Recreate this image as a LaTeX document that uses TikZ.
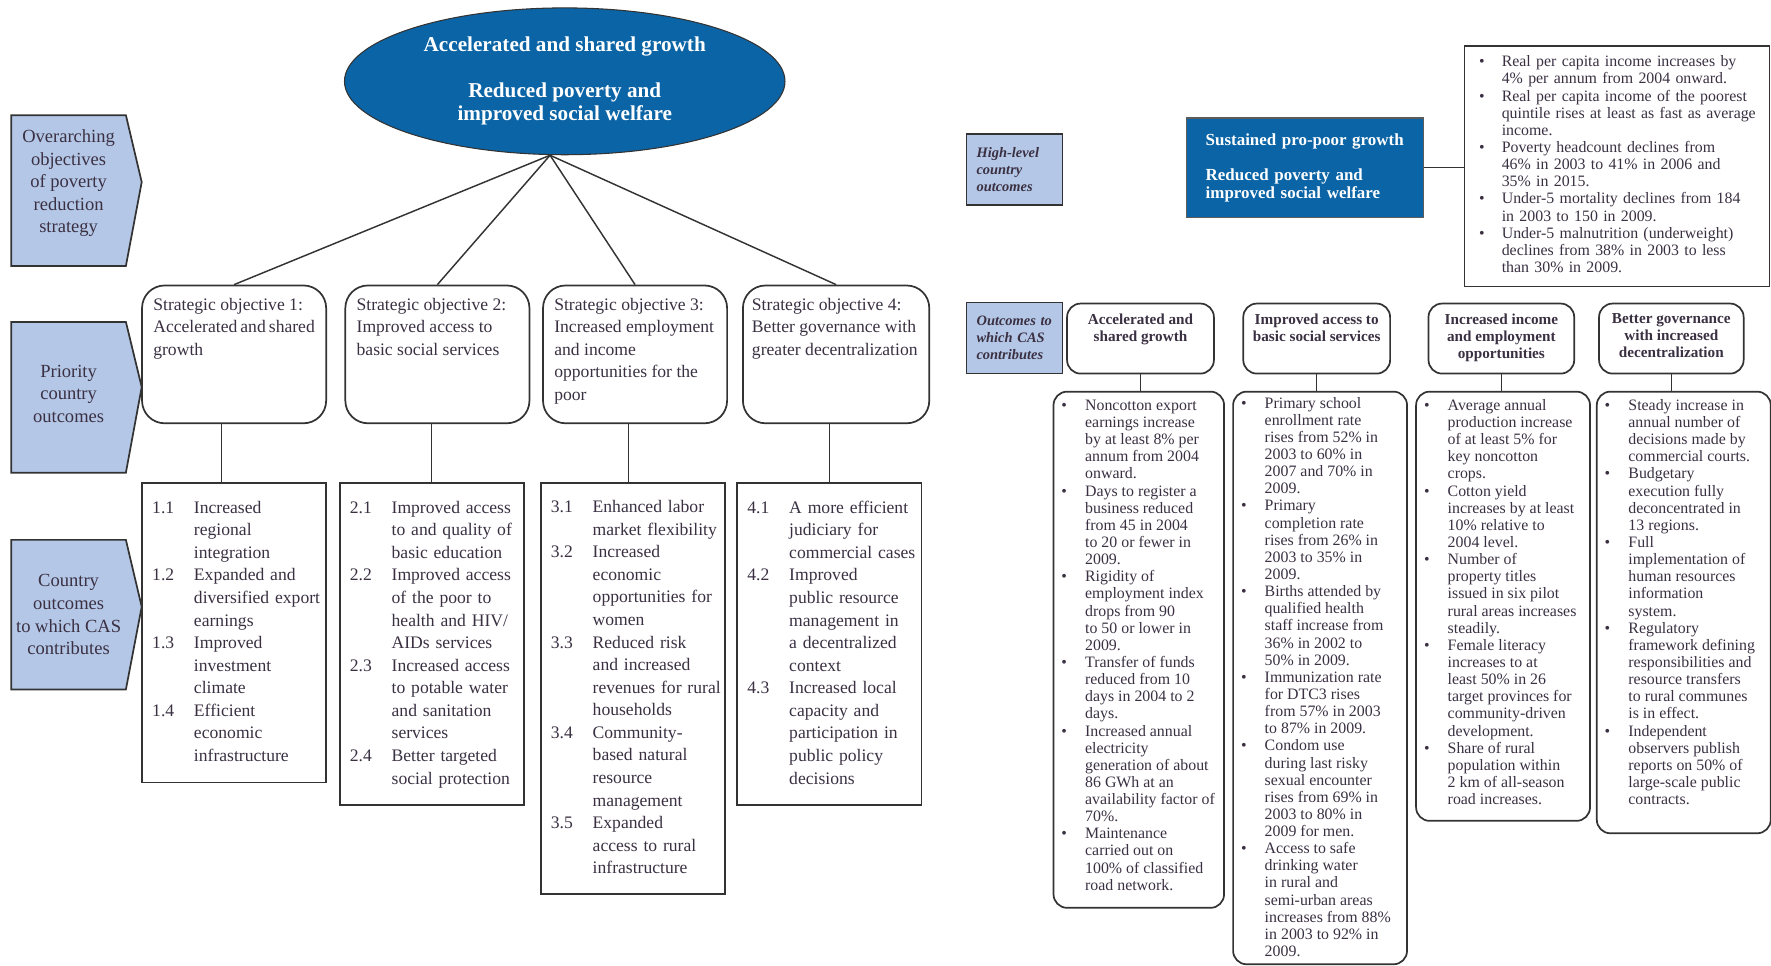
\documentclass[tikz,border=0pt]{standalone}
\usepackage{fontspec}
\setmainfont{Liberation Serif}
\usetikzlibrary{shapes.geometric,backgrounds}
\definecolor{csblue}{HTML}{0B64A5}
\definecolor{cstag}{HTML}{B4C7E7}
\definecolor{csedge}{HTML}{333333}
\definecolor{cstext}{HTML}{3A3042}
\newlength{\un}\setlength{\un}{0.3mm}
\newcommand{\fleft}{\fontsize{13.3}{17.07}\selectfont}
\newcommand{\ftag}{\fontsize{14}{17.07}\selectfont}
\newcommand{\fell}{\fontsize{16}{17.5}\selectfont\bfseries}
\newcommand{\fsmall}{\fontsize{12}{12.95}\selectfont}
\newcommand{\fhead}{\fontsize{11.5}{12.8}\selectfont\bfseries}
\newcommand{\ftagr}{\fontsize{10.9}{12.8}\selectfont\bfseries\itshape}
\newcommand{\fgrw}{\fontsize{12.8}{13.2}\selectfont\bfseries}
\newcommand{\topbox}[3]{\parbox[t][#2\un][t]{#1\un}{\hyphenpenalty=10000
  \exhyphenpenalty=10000\relax #3}}
\newcommand{\csbul}{\textbullet}
\tikzset{
  tagtext/.style  = {align=center, font=\ftag, text=cstext, inner sep=0pt,
                     minimum width=101\un, anchor=north west},
  tagshape/.style = {fill=cstag, draw=csedge, line width=1.3pt},
  goal/.style     = {ellipse, fill=csblue, draw=csedge, line width=0.8pt,
                     text=white, font=\fell, align=center, inner sep=0pt,
                     minimum width=390\un, minimum height=130\un},
  sobox/.style    = {draw=csedge, line width=1.3pt, rounded corners=20\un,
                     font=\fleft, text=cstext, inner xsep=10\un,
                     inner ysep=11\un, anchor=north west},
  itembox/.style  = {draw=csedge, line width=1.3pt, font=\fleft, text=cstext,
                     align=left, inner xsep=9\un, inner ysep=0pt,
                     text width=145\un, minimum width=163\un,
                     anchor=north west},
  link/.style     = {draw=csedge, line width=1.1pt},
  rtag/.style     = {fill=cstag, draw=csedge, line width=1.1pt, font=\ftagr,
                     text=cstext, align=left, inner xsep=9\un,
                     text width=67\un, minimum width=85\un,
                     minimum height=63\un, anchor=north west},
  grwbox/.style   = {fill=csblue, draw=csedge!80, line width=0.9pt,
                     font=\fgrw, text=white, align=left, inner xsep=17\un,
                     text width=176\un, minimum width=210\un,
                     minimum height=88\un, anchor=north west},
  listbox/.style  = {draw=csedge, line width=1.1pt, font=\fsmall,
                     text=cstext, align=left, anchor=north west},
  headbox/.style  = {draw=csedge, line width=1.3pt, rounded corners=12\un,
                     font=\fhead, text=cstext, inner xsep=4\un,
                     inner ysep=9\un, anchor=north west},
  outbox/.style   = {draw=csedge, line width=1.3pt, rounded corners=12\un,
                     font=\fsmall, text=cstext, inner xsep=7\un,
                     inner ysep=6\un, anchor=north west},
}

\begin{document}
\begin{tikzpicture}[x=0.3mm, y=-0.3mm]
  \useasboundingbox (0,0) rectangle (1568,855);

  % ---------- left: overarching goal ----------------------------------
  \node[goal] (goal) at (500,72)
    {Accelerated and shared growth\\[20\un]
     Reduced poverty and\\ improved social welfare};
  \coordinate (apex) at ([xshift=-13\un]goal.south);

  % ---------- left: level tags ----------------------------------------
  \node[tagtext, minimum height=120\un] (tagobj) at (10,102)
    {Overarching\\ objectives\\ of poverty\\ reduction\\ strategy};
  \node[tagtext, minimum height=127\un] (tagpri) at (10,285)
    {Priority\\ country\\ outcomes};
  \node[tagtext, minimum height=132\un] (tagcas) at (10,478)
    {Country\\ outcomes\\ to which CAS\\ contributes};
  \begin{scope}[on background layer]
    \foreach \tg/\ext/\up in {tagobj/13/1, tagpri/6/6, tagcas/0/7}
      \draw[tagshape] (\tg.north west) -- (\tg.north east)
        -- ([xshift=14\un,yshift=\up\un]\tg.east)
        -- ([yshift=-\ext\un]\tg.south east)
        -- ([yshift=-\ext\un]\tg.south west) -- cycle;
  \end{scope}

  % ---------- left: strategic objectives (row y = 252) ----------------
  \node[sobox] (so1) at (125,252) {\topbox{143}{100}{Strategic objective 1:\\
     Accelerated and shared\\ growth}};
  \node[sobox] (so2) at (305,252) {\topbox{143}{100}{Strategic objective 2:\\
     Improved access to\\ basic social services}};
  \node[sobox] (so3) at (480,252) {\topbox{143}{100}{Strategic objective 3:\\
     Increased employment\\ and income\\ opportunities for the\\ poor}};
  \node[sobox, inner xsep=8\un] (so4) at (657,252) {\topbox{149}{100}{%
     Strategic objective 4:\\
     Better governance with\\ greater decentralization}};

  % ---------- left: country outcomes (row y = 427) --------------------
  \node[itembox, minimum height=265\un] (itm1) at (125,427)
    {\begin{tabular}{@{}p{37\un}@{}l@{}}
     1.1 & Increased\\ & regional\\ & integration\\
     1.2 & Expanded and\\ & diversified export\\ & earnings\\
     1.3 & Improved\\ & investment\\ & climate\\
     1.4 & Efficient\\ & economic\\ & infrastructure
     \end{tabular}};
  \node[itembox, minimum height=285\un] (itm2) at (300,427)
    {\begin{tabular}{@{}p{37\un}@{}l@{}}
     2.1 & Improved access\\ & to and quality of\\ & basic education\\
     2.2 & Improved access\\ & of the poor to\\ & health and HIV/\\
         & AIDs services\\
     2.3 & Increased access\\ & to potable water\\ & and sanitation\\
         & services\\
     2.4 & Better targeted\\ & social protection
     \end{tabular}};
  \node[itembox, minimum height=364\un] (itm3) at (478,427)
    {\begin{tabular}{@{}p{37\un}@{}l@{}}
     3.1 & Enhanced labor\\ & market flexibility\\
     3.2 & Increased\\ & economic\\ & opportunities for\\ & women\\
     3.3 & Reduced risk\\ & and increased\\ & revenues for rural\\
         & households\\
     3.4 & Community-\\ & based natural\\ & resource\\ & management\\
     3.5 & Expanded\\ & access to rural\\ & infrastructure
     \end{tabular}};
  \node[itembox, minimum height=285\un] (itm4) at (652,427)
    {\begin{tabular}{@{}p{37\un}@{}l@{}}
     4.1 & A more efficient\\ & judiciary for\\ & commercial cases\\
     4.2 & Improved\\ & public resource\\ & management in\\
         & a decentralized\\ & context\\
     4.3 & Increased local\\ & capacity and\\ & participation in\\
         & public policy\\ & decisions
     \end{tabular}};

  % ---------- left: connectors ----------------------------------------
  \foreach \s in {so1,so2,so3,so4}
    \draw[link] (apex) -- (\s.north);
  \foreach \i/\dx in {1/-11,2/0,3/-4,4/0}
    \draw[link] ([xshift=\dx\un]itm\i.north)
      -- ([xshift=\dx\un]itm\i.north |- so\i.south);

  % ---------- right: high-level outcomes (row y = 104) ----------------
  \node[rtag] (hltag) at (855,118) {High-level\\ country\\ outcomes};
  \node[grwbox] (grw) at (1050,104)
    {Sustained pro-poor growth\\[15.5\un]
     Reduced poverty and\\ improved social welfare};
  \node[listbox, inner xsep=13\un, text width=244\un, minimum width=270\un,
        minimum height=213\un] (tb) at (1296,40)
    {\begin{tabular}{@{}p{20\un}@{}l@{}}
     \csbul & Real per capita income increases by\\
            & 4\% per annum from 2004 onward.\\
     \csbul & Real per capita income of the poorest\\
            & quintile rises at least as fast as average\\
            & income.\\
     \csbul & Poverty headcount declines from\\
            & 46\% in 2003 to 41\% in 2006 and\\
            & 35\% in 2015.\\
     \csbul & Under-5 mortality declines from 184\\
            & in 2003 to 150 in 2009.\\
     \csbul & Under-5 malnutrition (underweight)\\
            & declines from 38\% in 2003 to less\\
            & than 30\% in 2009.
     \end{tabular}};
  \draw[link] (grw.east) -- (grw.east -| tb.west);

  % ---------- right: outcomes to which CAS contributes (row y = 268) --
  \node[rtag] (castag) at (855,267) {Outcomes to\\ which CAS\\ contributes};
  \node[headbox] (oh1) at (944,268)
    {\topbox{122}{44}{\centering Accelerated and\\ shared growth}};
  \node[headbox] (oh2) at (1100,268)
    {\topbox{122}{44}{\centering Improved access to\\ basic social services}};
  \node[headbox] (oh3) at (1264,268)
    {\topbox{121}{44}{\centering Increased income\\ and employment\\ opportunities}};
  \node[headbox] (oh4) at (1415,268)
    {\topbox{120}{44}{\centering Better governance\\ with increased\\ decentralization}};

  % ---------- right: indicator lists (row y = 346) --------------------
  \node[outbox] (ob1) at (932,346) {\topbox{137}{445}{%
     \begin{tabular}{@{}p{21\un}@{}l@{}}
     \csbul & Noncotton export\\ & earnings increase\\ & by at least 8\% per\\
            & annum from 2004\\ & onward.\\
     \csbul & Days to register a\\ & business reduced\\ & from 45 in 2004\\
            & to 20 or fewer in\\ & 2009.\\
     \csbul & Rigidity of\\ & employment index\\ & drops from 90\\
            & to 50 or lower in\\ & 2009.\\
     \csbul & Transfer of funds\\ & reduced from 10\\ & days in 2004 to 2\\
            & days.\\
     \csbul & Increased annual\\ & electricity\\ & generation of about\\
            & 86 GWh at an\\ & availability factor of\\ & 70\%.\\
     \csbul & Maintenance\\ & carried out on\\ & 100\% of classified\\
            & road network.
     \end{tabular}}};
  \node[outbox, inner ysep=4\un] (ob2) at (1091,346) {\topbox{140}{499}{%
     \begin{tabular}{@{}p{21\un}@{}l@{}}
     \csbul & Primary school\\ & enrollment rate\\ & rises from 52\% in\\
            & 2003 to 60\% in\\ & 2007 and 70\% in\\ & 2009.\\
     \csbul & Primary\\ & completion rate\\ & rises from 26\% in\\
            & 2003 to 35\% in\\ & 2009.\\
     \csbul & Births attended by\\ & qualified health\\ & staff increase from\\
            & 36\% in 2002 to\\ & 50\% in 2009.\\
     \csbul & Immunization rate\\ & for DTC3 rises\\ & from 57\% in 2003\\
            & to 87\% in 2009.\\
     \csbul & Condom use\\ & during last risky\\ & sexual encounter\\
            & rises from 69\% in\\ & 2003 to 80\% in\\ & 2009 for men.\\
     \csbul & Access to safe\\ & drinking water\\ & in rural and\\
            & semi-urban areas\\ & increases from 88\%\\ & in 2003 to 92\% in\\
            & 2009.
     \end{tabular}}};
  \node[outbox] (ob3) at (1253,346) {\topbox{140}{368}{%
     \begin{tabular}{@{}p{21\un}@{}l@{}}
     \csbul & Average annual\\ & production increase\\ & of at least 5\% for\\
            & key noncotton\\ & crops.\\
     \csbul & Cotton yield\\ & increases by at least\\ & 10\% relative to\\
            & 2004 level.\\
     \csbul & Number of\\ & property titles\\ & issued in six pilot\\
            & rural areas increases\\ & steadily.\\
     \csbul & Female literacy\\ & increases to at\\ & least 50\% in 26\\
            & target provinces for\\ & community-driven\\ & development.\\
     \csbul & Share of rural\\ & population within\\ & 2 km of all-season\\
            & road increases.
     \end{tabular}}};
  \node[outbox] (ob4) at (1413,346) {\topbox{140}{379}{%
     \begin{tabular}{@{}p{21\un}@{}l@{}}
     \csbul & Steady increase in\\ & annual number of\\ & decisions made by\\
            & commercial courts.\\
     \csbul & Budgetary\\ & execution fully\\ & deconcentrated in\\
            & 13 regions.\\
     \csbul & Full\\ & implementation of\\ & human resources\\
            & information\\ & system.\\
     \csbul & Regulatory\\ & framework defining\\ & responsibilities and\\
            & resource transfers\\ & to rural communes\\ & is in effect.\\
     \csbul & Independent\\ & observers publish\\ & reports on 50\% of\\
            & large-scale public\\ & contracts.
     \end{tabular}}};

  % ---------- right: connectors ---------------------------------------
  \foreach \i in {1,...,4}
    \draw[link] (oh\i.south) -- (oh\i.south |- ob\i.north);

\end{tikzpicture}
\end{document}
